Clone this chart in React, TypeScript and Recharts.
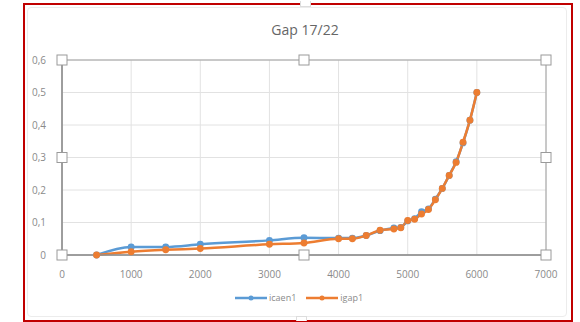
import { LineChart, Line, XAxis, YAxis, CartesianGrid, ReferenceArea, ReferenceDot } from "recharts";

const loads = [500, 1000, 1500, 2000, 3000, 3500, 4000, 4200, 4400, 4600, 4800, 4900, 5000, 5100, 5200, 5300, 5400, 5500, 5600, 5700, 5800, 5900, 6000];
const icaen1 = [0, 0.025, 0.025, 0.033, 0.045, 0.053, 0.052, 0.052, 0.06, 0.075, 0.083, 0.085, 0.105, 0.112, 0.133, 0.142, 0.172, 0.205, 0.245, 0.287, 0.345, 0.415, 0.5];
const igap1 = [0, 0.01, 0.016, 0.02, 0.033, 0.037, 0.05, 0.05, 0.06, 0.076, 0.08, 0.084, 0.106, 0.11, 0.126, 0.14, 0.17, 0.205, 0.245, 0.285, 0.347, 0.415, 0.5];
const xTicks = [0, 1000, 2000, 3000, 4000, 5000, 6000, 7000];
const yTicks = [0, 0.1, 0.2, 0.3, 0.4, 0.5, 0.6];

const data = loads.map((x, i) => ({ x, icaen1: icaen1[i], igap1: igap1[i] }));

// selection handles around the plot area
const handles = [
  { x: 0, y: 0.6 }, { x: 3500, y: 0.6 }, { x: 7000, y: 0.6 },
  { x: 0, y: 0.3 }, { x: 7000, y: 0.3 },
  { x: 0, y: 0 }, { x: 3500, y: 0 }, { x: 7000, y: 0 },
];

const BLUE = "#5b9bd5";
const ORANGE = "#ed7d31";
const FONT = "'Open Sans', 'Liberation Sans', sans-serif";

const HandleShape = (props: any) => (
  <rect x={props.cx - 5} y={props.cy - 5} width={10} height={10} fill="#fff" stroke="#9a9a9a" strokeWidth={1} />
);

const LegendItem = ({ color, label }: { color: string; label: string }) => (
  <span style={{ display: "inline-flex", alignItems: "center", marginRight: 10 }}>
    <svg width={32} height={8}>
      <line x1={0} y1={4} x2={32} y2={4} stroke={color} strokeWidth={2.5} />
      <circle cx={16} cy={4} r={2.5} fill={color} />
    </svg>
    <span style={{ marginLeft: 2 }}>{label}</span>
  </span>
);

export default function App() {
  return (
    <div style={{ position: "absolute", left: 0, top: 0, width: 580, height: 322, background: "#fff", fontFamily: FONT }}>
      <div style={{ position: "absolute", left: 23, top: 3, width: 546, height: 315, border: "2px solid #c00000" }} />
      <div style={{ position: "absolute", left: 27, top: 7, width: 538, height: 308, border: "1px solid #ececec", borderRadius: 4 }} />
      <div style={{ position: "absolute", left: 0, top: 20, width: 610, textAlign: "center", fontSize: 14, color: "#666" }}>
        Gap 17/22
      </div>
      <div style={{ position: "absolute", left: 300, top: 1, width: 9, height: 5, background: "#fff", border: "1px solid #ddd", borderTop: "none" }} />
      <div style={{ position: "absolute", left: 296, top: 316, width: 9, height: 4, background: "#fff", border: "1px solid #ddd", borderBottom: "none" }} />
      <LineChart
        width={580}
        height={322}
        data={data}
        margin={{ top: 60, right: 34, bottom: 37, left: 28 }}
        style={{ position: "absolute", left: 0, top: 0 }}
      >
        <CartesianGrid stroke="#e2e2e2" strokeWidth={1} />
        <XAxis
          dataKey="x"
          type="number"
          domain={[0, 7000]}
          ticks={xTicks}
          axisLine={{ stroke: "#8f8f8f", strokeWidth: 1.5 }}
          tickLine={false}
          tickMargin={10}
          height={30}
          tick={{ fontSize: 10, fill: "#8a8a8a", fontFamily: FONT }}
        />
        <YAxis
          type="number"
          domain={[0, 0.6]}
          ticks={yTicks}
          axisLine={{ stroke: "#8f8f8f", strokeWidth: 1.5 }}
          tickLine={false}
          tickMargin={10}
          width={34}
          tickFormatter={(v: number) => String(v).replace(".", ",")}
          tick={{ fontSize: 10, fill: "#8a8a8a", fontFamily: FONT }}
        />
        <ReferenceArea x1={0} x2={7000} y1={0} y2={0.6} fill="none" stroke="#a0a0a0" strokeWidth={1} />
        <Line
          type="monotone"
          dataKey="icaen1"
          stroke={BLUE}
          strokeWidth={2.5}
          dot={{ r: 2.2, fill: BLUE, stroke: BLUE }}
          isAnimationActive={false}
        />
        <Line
          type="monotone"
          dataKey="igap1"
          stroke={ORANGE}
          strokeWidth={2.5}
          dot={{ r: 2.2, fill: ORANGE, stroke: ORANGE }}
          isAnimationActive={false}
        />
        {handles.map((h, i) => (
          <ReferenceDot key={i} x={h.x} y={h.y} r={5} shape={HandleShape} />
        ))}
      </LineChart>
      <div style={{ position: "absolute", left: 235, top: 291, fontSize: 9, color: "#8a8a8a", display: "flex" }}>
        <LegendItem color={BLUE} label="icaen1" />
        <LegendItem color={ORANGE} label="igap1" />
      </div>
    </div>
  );
}
